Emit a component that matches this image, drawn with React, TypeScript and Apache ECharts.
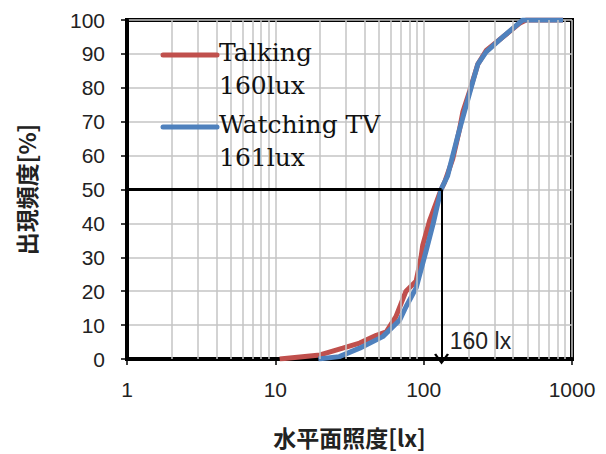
import React, { useEffect, useRef } from "react";
import * as echarts from "echarts";

const talkingLux = [10.7, 20, 28.5, 37, 48, 56, 65, 76, 89, 96, 98.6, 110, 131, 138, 157, 174, 184, 204, 232, 264, 342, 443, 491, 870];
const talkingPct = [0, 1.2, 3.2, 4.7, 7, 8, 12.5, 20, 23, 30, 33.6, 41, 50, 52, 59, 67.5, 73, 79, 87, 91, 95, 99, 100, 100];
const tvLux = [19.5, 27, 37, 53, 69, 76, 89, 104, 116, 131, 145, 157, 174, 194, 215, 232, 264, 342, 465, 870];
const tvPct = [0, 0.7, 3.2, 6.6, 11.5, 15.4, 21, 32, 40, 50, 54, 60, 67.5, 75, 82, 87, 90.6, 95, 100, 100];
const minorGridLux = [2, 3, 4, 5, 6, 7, 8, 9, 20, 30, 40, 50, 60, 70, 80, 90, 200, 300, 400, 500, 600, 700, 800, 900];
const medianLux = 132;
const medianPct = 50;
const medianLabel = "160 lx";
const seriesNames = ["Talking", "Watching TV"];
const seriesNotes = ["160lux", "161lux"];

const RED = "#C0504D";
const BLUE = "#4F81BD";
const GRIDC = "#c4c4c4";

export default function App() {
  const ref = useRef<HTMLDivElement>(null);
  useEffect(() => {
    const chart = echarts.init(ref.current!, null, { renderer: "svg" });
    const pair = (xs: number[], ys: number[]) => xs.map((x, i) => [x, ys[i]]);
    const legendText = (x: number, y: number, t: string) => ({
      type: "text",
      left: x,
      top: y,
      style: { text: t, font: "25px 'DejaVu Serif'", fill: "#111" },
    });
    chart.setOption({
      animation: false,
      grid: { left: 127, right: 34, top: 20, bottom: 95, show: true, borderColor: "#000", borderWidth: 4 },
      xAxis: {
        type: "log",
        min: 1,
        max: 1000,
        logBase: 10,
        name: "水平面照度[lx]",
        nameLocation: "middle",
        nameGap: 66,
        nameTextStyle: { fontFamily: "'Noto Sans CJK JP'", fontSize: 23, fontWeight: "bold", color: "#222" },
        axisLine: { lineStyle: { color: "#000", width: 4 } },
        axisTick: { show: true, length: 6, lineStyle: { color: "#000", width: 1.5 } },
        axisLabel: {
          fontFamily: "'Liberation Sans'",
          fontSize: 21,
          color: "#222",
          margin: 20,
          formatter: (v: number) => String(Math.round(v)),
        },
        splitLine: { show: true, lineStyle: { color: GRIDC, width: 1.5 } },
      },
      yAxis: {
        type: "value",
        min: 0,
        max: 100,
        interval: 10,
        name: "出現頻度[%]",
        nameLocation: "middle",
        nameGap: 90,
        nameRotate: 90,
        nameTextStyle: { fontFamily: "'Noto Sans CJK JP'", fontSize: 23, fontWeight: "bold", color: "#222" },
        axisLine: { show: true, lineStyle: { color: "#000", width: 4 } },
        axisTick: { show: true, length: 6, lineStyle: { color: "#000", width: 1.5 } },
        axisLabel: { fontFamily: "'Liberation Sans'", fontSize: 21, color: "#222", margin: 22 },
        splitLine: { show: true, lineStyle: { color: GRIDC, width: 1.5 } },
      },
      series: [
        {
          type: "line",
          name: "grid",
          z: 1,
          data: [[1, 0]],
          showSymbol: false,
          lineStyle: { opacity: 0 },
          silent: true,
          markLine: {
            silent: true,
            symbol: ["none", "none"],
            label: { show: false },
            lineStyle: { color: GRIDC, width: 1.5, type: "solid" },
            data: minorGridLux.map((v) => ({ xAxis: v })),
          },
        },
        {
          type: "line",
          name: "median",
          z: 2,
          data: [[1, 0]],
          showSymbol: false,
          lineStyle: { opacity: 0 },
          silent: true,
          markLine: {
            silent: true,
            label: { show: false },
            data: [
              [
                { coord: [1, medianPct], symbol: "none", lineStyle: { color: "#000", width: 3, type: "solid" } },
                { coord: [medianLux, medianPct], symbol: "none" },
              ],
              [
                { coord: [medianLux, medianPct], symbol: "none", lineStyle: { color: "#000", width: 2, type: "solid" } },
                {
                  coord: [medianLux, 0],
                  symbol: "path://M5,0 L10,9 L8.6,10 L5,3.2 L1.4,10 L0,9 Z",
                  symbolSize: [15, 11],
                  symbolOffset: [0, 0],
                },
              ],
            ],
          },
          markPoint: {
            silent: true,
            symbol: "circle",
            symbolSize: 0,
            data: [{ coord: [150, 5.3] }],
            label: {
              show: true,
              position: "right",
              distance: 0,
              formatter: medianLabel,
              fontFamily: "'Liberation Sans'",
              fontSize: 23,
              color: "#222",
            },
          },
        },
        {
          type: "line",
          name: seriesNames[0],
          z: 3,
          data: pair(talkingLux, talkingPct),
          showSymbol: false,
          lineStyle: { color: RED, width: 5 },
        },
        {
          type: "line",
          name: seriesNames[1],
          z: 4,
          data: pair(tvLux, tvPct),
          showSymbol: false,
          lineStyle: { color: BLUE, width: 5 },
        },
      ],
      graphic: [
        { type: "line", shape: { x1: 163, y1: 55, x2: 217, y2: 55 }, style: { stroke: RED, lineWidth: 5, lineCap: "round" }, z: 60 },
        { ...legendText(219, 40, seriesNames[0]), z: 60 },
        { ...legendText(219, 73, seriesNotes[0]), z: 60 },
        { type: "line", shape: { x1: 163, y1: 127, x2: 217, y2: 127 }, style: { stroke: BLUE, lineWidth: 5, lineCap: "round" }, z: 60 },
        { ...legendText(219, 112, seriesNames[1]), z: 60 },
        { ...legendText(219, 145, seriesNotes[1]), z: 60 },
      ],
    });
    return () => chart.dispose();
  }, []);
  return <div ref={ref} style={{ position: "fixed", left: 0, top: 0, width: 606, height: 454, background: "#fff" }} />;
}
